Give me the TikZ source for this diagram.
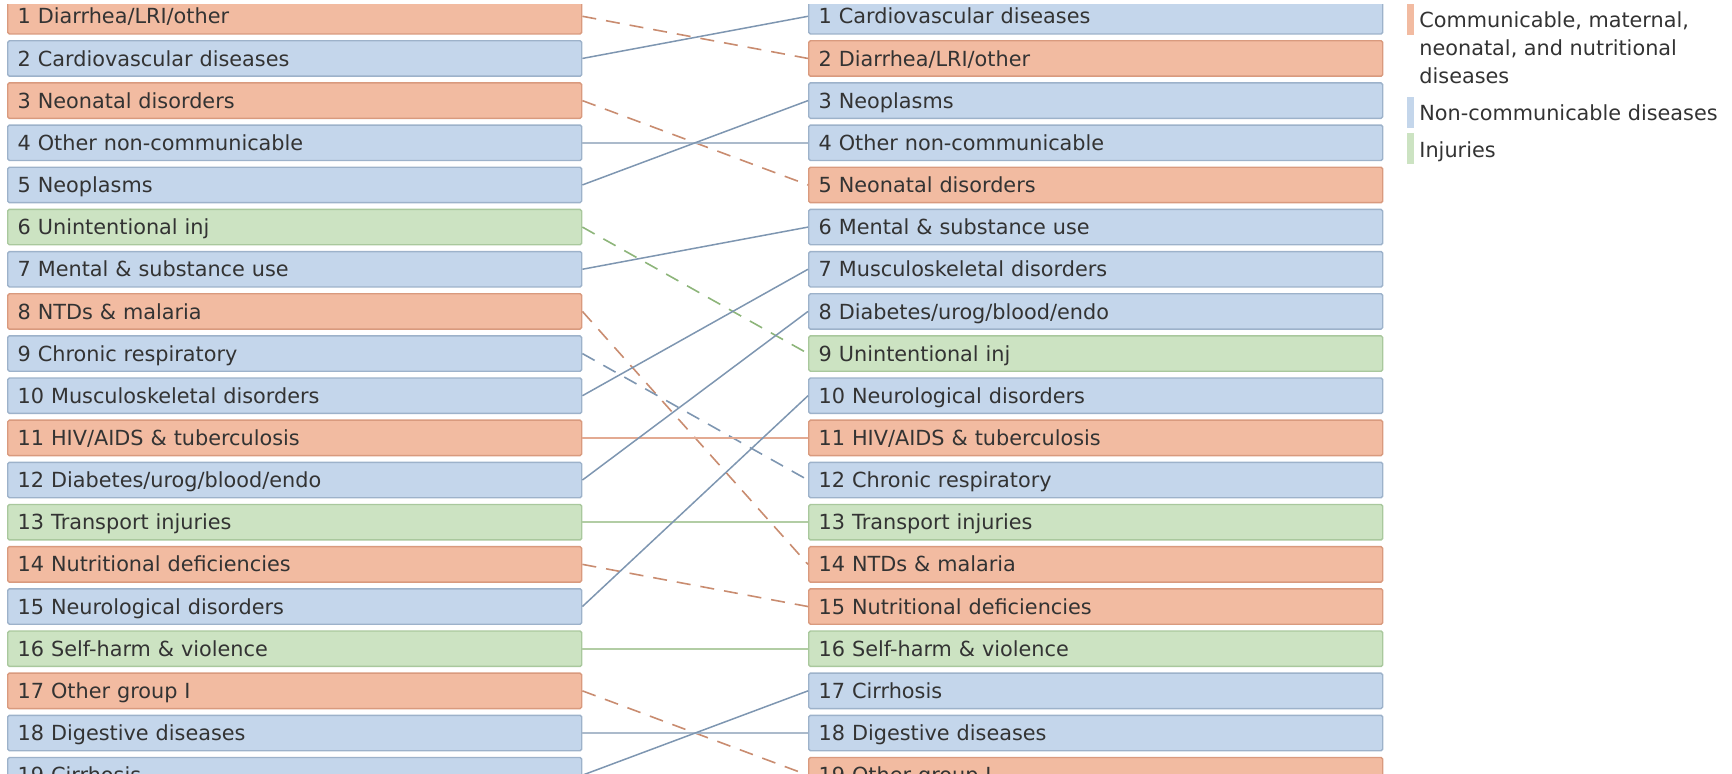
\documentclass[tikz,border=0pt]{standalone}
\usepackage{fontspec}
\setmainfont{DejaVu Sans}
\definecolor{cfO}{HTML}{F2BBA1}
\definecolor{cdO}{HTML}{D99A7E}
\definecolor{cfB}{HTML}{C4D6EB}
\definecolor{cdB}{HTML}{9DB2CA}
\definecolor{cfG}{HTML}{CCE3C2}
\definecolor{cdG}{HTML}{A9C89D}
\definecolor{lnO}{HTML}{C98C70}
\definecolor{lnB}{HTML}{7E96B1}
\definecolor{lnG}{HTML}{8DB57A}
\definecolor{hzO}{HTML}{E3AA92}
\definecolor{hzB}{HTML}{ABBACB}
\definecolor{hzG}{HTML}{B2CDA4}
\definecolor{txt}{HTML}{333333}
\tikzset{
  box/.style={draw, line width=0.7pt, rounded corners=0.8pt,
    minimum width=287pt, minimum height=17.7pt, inner ysep=0pt, inner xsep=5pt,
    text width=277pt, align=left, text height=7.6pt, text depth=0pt,
    font=\fontsize{10.4pt}{12pt}\selectfont, text=txt, anchor=west},
  bO/.style={box, fill=cfO, draw=cdO},
  bB/.style={box, fill=cfB, draw=cdB},
  bG/.style={box, fill=cfG, draw=cdG},
  upB/.style={draw=lnB, line width=0.75pt},
  dnB/.style={draw=lnB, line width=0.8pt, dash pattern=on 7 off 5},
  dnO/.style={draw=lnO, line width=0.8pt, dash pattern=on 7 off 5},
  dnG/.style={draw=lnG, line width=0.8pt, dash pattern=on 7 off 5},
  hzOl/.style={draw=hzO, line width=1.2pt},
  hzBl/.style={draw=hzB, line width=1.2pt},
  hzGl/.style={draw=hzG, line width=1.2pt},
  legtext/.style={anchor=base west, inner sep=0pt, text=txt, font=\fontsize{10.4pt}{12pt}\selectfont},
}
\begin{document}
\begin{tikzpicture}[x=0.5pt,y=-0.5pt]
\useasboundingbox (0,0) rectangle (1732,774);
\begin{scope}
\clip (0,5) rectangle (1732,774);
% left column
\node[bO] (L1)  at (7,16.3)   {1 Diarrhea/LRI/other};
\node[bB] (L2)  at (7,58.46)  {2 Cardiovascular diseases};
\node[bO] (L3)  at (7,100.62) {3 Neonatal disorders};
\node[bB] (L4)  at (7,142.78) {4 Other non-communicable};
\node[bB] (L5)  at (7,184.94) {5 Neoplasms};
\node[bG] (L6)  at (7,227.10) {6 Unintentional inj};
\node[bB] (L7)  at (7,269.26) {7 Mental \& substance use};
\node[bO] (L8)  at (7,311.42) {8 NTDs \& malaria};
\node[bB] (L9)  at (7,353.58) {9 Chronic respiratory};
\node[bB] (L10) at (7,395.74) {10 Musculoskeletal disorders};
\node[bO] (L11) at (7,437.90) {11 HIV/AIDS \& tuberculosis};
\node[bB] (L12) at (7,480.06) {12 Diabetes/urog/blood/endo};
\node[bG] (L13) at (7,522.22) {13 Transport injuries};
\node[bO] (L14) at (7,564.38) {14 Nutritional deficiencies};
\node[bB] (L15) at (7,606.54) {15 Neurological disorders};
\node[bG] (L16) at (7,648.70) {16 Self-harm \& violence};
\node[bO] (L17) at (7,690.86) {17 Other group I};
\node[bB] (L18) at (7,733.02) {18 Digestive diseases};
\node[bB] (L19) at (7,775.18) {19 Cirrhosis};
% right column
\node[bB] (R1)  at (808,16.3)   {1 Cardiovascular diseases};
\node[bO] (R2)  at (808,58.46)  {2 Diarrhea/LRI/other};
\node[bB] (R3)  at (808,100.62) {3 Neoplasms};
\node[bB] (R4)  at (808,142.78) {4 Other non-communicable};
\node[bO] (R5)  at (808,184.94) {5 Neonatal disorders};
\node[bB] (R6)  at (808,227.10) {6 Mental \& substance use};
\node[bB] (R7)  at (808,269.26) {7 Musculoskeletal disorders};
\node[bB] (R8)  at (808,311.42) {8 Diabetes/urog/blood/endo};
\node[bG] (R9)  at (808,353.58) {9 Unintentional inj};
\node[bB] (R10) at (808,395.74) {10 Neurological disorders};
\node[bO] (R11) at (808,437.90) {11 HIV/AIDS \& tuberculosis};
\node[bB] (R12) at (808,480.06) {12 Chronic respiratory};
\node[bG] (R13) at (808,522.22) {13 Transport injuries};
\node[bO] (R14) at (808,564.38) {14 NTDs \& malaria};
\node[bO] (R15) at (808,606.54) {15 Nutritional deficiencies};
\node[bG] (R16) at (808,648.70) {16 Self-harm \& violence};
\node[bB] (R17) at (808,690.86) {17 Cirrhosis};
\node[bB] (R18) at (808,733.02) {18 Digestive diseases};
\node[bO] (R19) at (808,775.18) {19 Other group I};
% connectors
\draw[dnO] (L1.east) -- (R2.west);
\draw[upB] (L2.east) -- (R1.west);
\draw[dnO] (L3.east) -- (R5.west);
\draw[hzBl] (L4.east) -- (R4.west);
\draw[upB] (L5.east) -- (R3.west);
\draw[dnG] (L6.east) -- (R9.west);
\draw[upB] (L7.east) -- (R6.west);
\draw[dnO] (L8.east) -- (R14.west);
\draw[dnB] (L9.east) -- (R12.west);
\draw[upB] (L10.east) -- (R7.west);
\draw[hzOl] (L11.east) -- (R11.west);
\draw[upB] (L12.east) -- (R8.west);
\draw[hzGl] (L13.east) -- (R13.west);
\draw[dnO] (L14.east) -- (R15.west);
\draw[upB] (L15.east) -- (R10.west);
\draw[hzGl] (L16.east) -- (R16.west);
\draw[dnO] (L17.east) -- (R19.west);
\draw[hzBl] (L18.east) -- (R18.west);
\draw[upB] (L19.east) -- (R17.west);
% legend
\fill[cfO] (1407,4) rectangle (1414,35);
\fill[cfB] (1407,97) rectangle (1414,128);
\fill[cfG] (1407,133) rectangle (1414,164);
\node[legtext] (lg1a) at (1419,27.5) {Communicable, maternal,};
\node[legtext] (lg1b) at (1419,55.5) {neonatal, and nutritional};
\node[legtext] (lg1c) at (1419,83.5) {diseases};
\node[legtext] (lg2) at (1419,120.5) {Non-communicable diseases};
\node[legtext] (lg3) at (1419,157.5) {Injuries};
\end{scope}
\end{tikzpicture}
\end{document}
